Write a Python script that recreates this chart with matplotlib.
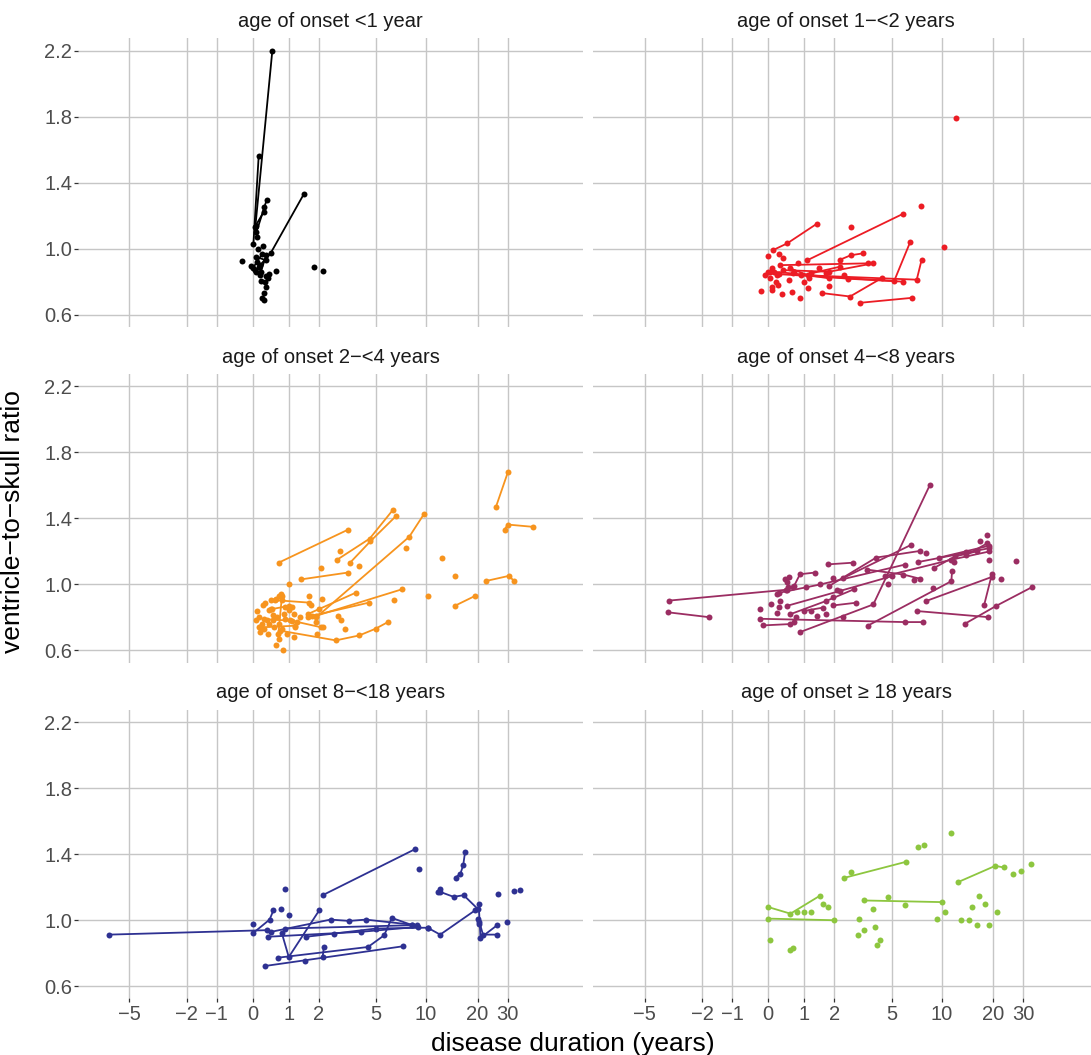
import numpy as np
import matplotlib.pyplot as plt

plt.rcParams['font.family'] = ['Liberation Sans', 'DejaVu Sans']

# ---------- data: one list of trajectories per onset group ----------
panel_titles = ["age of onset <1 year", "age of onset 1\u2212<2 years",
                "age of onset 2\u2212<4 years", "age of onset 4\u2212<8 years",
                "age of onset 8\u2212<18 years", "age of onset \u2265 18 years"]
panel_colors = ["#000000", "#EC1C24", "#F7941E", "#9B2D62", "#2E3192", "#8DC63F"]

onset_lt1 = [
    [(0.07, 1.13), (0.53, 2.2)],
    [(0.02, 1.03), (0.16, 1.56)],
    [(0.2, 0.90), (0.49, 0.975), (1.47, 1.33)],
    [(0.1, 1.10), (0.31, 1.25), (0.375, 1.295)],
    [(0.08, 1.14), (0.29, 1.22)],
    [(0.0, 0.88), (0.26, 0.97)],
    [(0.12, 0.92), (0.22, 0.86), (0.36, 0.96)],
    [(0.05, 0.87), (0.18, 0.89)],
    [(0.1, 0.95), (0.35, 0.93)],
    [(-0.285, 0.925)], [(-0.04, 0.895)], [(0.63, 0.865)], [(1.84, 0.89)],
    [(2.18, 0.865)], [(0.43, 0.845)], [(0.36, 0.835)], [(0.22, 0.805)],
    [(0.36, 0.77)], [(0.29, 0.73)], [(0.24, 0.70)], [(0.31, 0.69)],
    [(0.27, 1.015)], [(0.15, 1.0)], [(0.4, 0.82)], [(0.33, 0.80)],
    [(0.08, 0.86)], [(0.2, 0.84)], [(0.12, 1.07)],
]

onset_1_2 = [
    [(0.116, 0.99), (0.51, 1.032), (1.38, 1.15)],
    [(1.09, 0.93), (5.86, 1.211)],
    [(0.3, 0.845), (5.17, 0.804), (6.5, 1.043)],
    [(0.9, 0.84), (7.1, 0.812), (7.6, 0.933)],
    [(1.55, 0.731), (2.64, 0.71), (4.36, 0.824)],
    [(3.12, 0.672), (6.66, 0.702)],
    [(2.22, 0.933), (2.67, 0.96), (3.27, 0.972)],
    [(0.31, 0.90), (3.51, 0.911)],
    [(0.4, 0.87), (1.8, 0.86), (3.81, 0.911)],
    [(0.6, 0.88), (1.1, 0.84), (1.8, 0.82)],
    [(1.2, 0.85), (2.2, 0.89)],
    [(0.15, 0.86), (2.53, 0.818), (5.9, 0.80)],
    [(12.1, 1.792)], [(7.54, 1.259)], [(2.68, 1.132)], [(10.3, 1.01)],
    [(0.0, 0.953)], [(-0.09, 0.842)], [(-0.196, 0.743)], [(0.09, 0.747)],
    [(0.09, 0.767)], [(0.357, 0.723)], [(0.63, 0.735)], [(0.88, 0.703)],
    [(1.12, 0.761)], [(1.81, 0.773)], [(0.05, 0.82)], [(0.2, 0.80)],
    [(0.25, 0.78)], [(0.1, 0.88)], [(0.4, 0.943)], [(0.7, 0.86)],
    [(1.45, 0.88)], [(1.7, 0.85)], [(2.4, 0.84)], [(0.55, 0.81)],
    [(0.0, 0.86)], [(0.3, 0.97)], [(1.0, 0.80)], [(0.04, 0.858)],
    [(0.22, 0.838)], [(0.68, 0.85)], [(1.14, 0.82)], [(0.8, 0.913)],
]

onset_2_4 = [
    [(0.716, 1.133), (3.3, 1.333)],
    [(2.77, 1.151), (4.55, 1.278), (6.31, 1.45)],
    [(3.4, 1.133), (4.6, 1.262), (6.6, 1.414)],
    [(1.9, 0.80), (7.94, 1.289), (9.76, 1.43)],
    [(1.39, 1.031), (3.27, 1.072)],
    [(22.4, 1.021), (30.4, 1.052), (32.6, 1.021)],
    [(25.6, 1.471), (30.0, 1.68)],
    [(28.7, 1.333), (30.0, 1.363), (42.2, 1.349)],
    [(14.7, 0.87), (19.3, 0.93)],
    [(1.9, 0.81), (7.2, 0.971)],
    [(0.75, 0.72), (2.7, 0.661), (3.9, 0.691), (4.96, 0.732), (5.9, 0.772)],
    [(1.75, 0.81), (4.5, 0.89)],
    [(1.6, 0.82), (3.7, 0.95)],
    [(0.6, 0.905), (1.65, 0.89)],
    [(0.3, 0.79), (1.1, 0.78), (2.1, 0.74)],
    [(0.5, 0.85), (1.0, 0.87)],
    [(0.7, 0.70), (0.8, 0.93)],
    [(0.2, 0.74), (1.2, 0.75)],
    [(2.9, 1.202)], [(3.86, 1.11)], [(2.08, 1.1)], [(1.02, 1.0)],
    [(12.4, 1.161)], [(14.8, 1.052)], [(10.2, 0.93)], [(6.45, 0.904)],
    [(7.6, 1.222)], [(3.14, 0.732)], [(1.66, 0.93)], [(2.12, 0.91)],
    [(0.84, 0.60)], [(0.62, 0.631)], [(0.72, 0.671)],
    [(0.116, 0.837)], [(0.18, 0.803)], [(0.16, 0.742)], [(0.2, 0.711)],
    [(0.27, 0.873)], [(0.34, 0.888)], [(0.43, 0.847)], [(0.49, 0.904)],
    [(0.51, 0.853)], [(0.63, 0.914)], [(0.72, 0.928)], [(0.76, 0.944)],
    [(0.79, 0.904)], [(0.375, 0.786)], [(0.45, 0.762)], [(0.54, 0.782)],
    [(0.58, 0.742)], [(0.67, 0.803)], [(0.72, 0.762)], [(0.81, 0.732)],
    [(0.86, 0.823)], [(0.9, 0.863)], [(1.0, 0.843)], [(1.1, 0.863)],
    [(1.15, 0.823)], [(1.05, 0.782)], [(1.2, 0.742)], [(0.95, 0.701)],
    [(0.41, 0.701)], [(2.0, 0.853)], [(1.72, 0.873)], [(1.6, 0.803)],
    [(1.88, 0.772)], [(1.95, 0.701)], [(2.17, 0.742)], [(2.8, 0.807)],
    [(2.95, 0.782)], [(1.15, 0.681)], [(0.09, 0.782)], [(0.25, 0.762)],
    [(0.31, 0.732)], [(0.56, 0.813)], [(0.88, 0.793)], [(1.25, 0.772)],
    [(1.35, 0.803)],
]

onset_4_8 = [
    [(0.87, 0.711), (3.81, 0.879), (8.5, 1.602)],
    [(-3.51, 0.902), (0.49, 0.968)],
    [(-3.53, 0.831), (-1.76, 0.802)],
    [(2.35, 1.039), (6.6, 1.241)],
    [(1.8, 0.99), (3.98, 1.163), (7.4, 1.203)],
    [(7.25, 1.136), (19.0, 1.22)],
    [(9.7, 1.163), (19.0, 1.235)],
    [(13.9, 1.177), (18.5, 1.25)],
    [(4.5, 1.05), (11.4, 1.15), (19.0, 1.20)],
    [(17.7, 0.873), (19.7, 1.065)],
    [(13.7, 0.762), (20.9, 0.871), (33.8, 0.985)],
    [(8.1, 0.90), (19.7, 1.046)],
    [(7.1, 0.839), (18.7, 0.802)],
    [(3.5, 0.75), (11.4, 1.02), (11.5, 1.08)],
    [(-0.22, 0.792), (6.0, 0.772), (7.7, 0.772)],
    [(-0.13, 0.752), (0.6, 0.76)],
    [(1.96, 0.873), (2.9, 0.889)],
    [(1.78, 1.122), (2.78, 1.132)],
    [(0.7, 0.99), (0.87, 1.062), (1.32, 1.072)],
    [(0.5, 0.87), (2.2, 0.96), (5.0, 1.05)],
    [(0.3, 0.95), (1.5, 1.0), (6.0, 1.12)],
    [(0.6, 0.82), (1.7, 0.90), (2.8, 0.97)],
    [(1.0, 0.84), (1.6, 0.86)],
    [(9.0, 1.10), (12.0, 1.17), (16.0, 1.20)],
    [(3.47, 1.09), (5.9, 1.06), (7.4, 1.035)],
    [(18.3, 1.298)], [(16.7, 1.264)], [(19.0, 1.15)], [(27.0, 1.142)],
    [(22.1, 1.031)], [(8.1, 1.193)], [(-0.222, 0.853)], [(0.062, 0.879)],
    [(0.24, 0.94)], [(0.29, 0.863)], [(0.22, 0.827)], [(0.45, 1.035)],
    [(0.55, 1.045)], [(0.5, 1.015)], [(0.52, 0.985)], [(0.5, 0.965)],
    [(0.67, 0.985)], [(1.05, 0.985)], [(1.95, 1.04)], [(4.7, 1.0)],
    [(6.8, 1.025)], [(8.9, 0.98)], [(11.8, 1.136)], [(13.8, 1.197)],
    [(1.2, 0.84)], [(1.4, 0.81)], [(1.7, 0.82)], [(0.77, 0.80)],
    [(0.7, 0.77)], [(1.96, 0.924)], [(2.1, 0.965)], [(2.35, 0.803)],
    [(0.31, 0.90)],
]

onset_8_18 = [
    [(-6.6, 0.913), (0.39, 0.94)],
    [(0.0, 0.92), (0.455, 1.004), (0.56, 1.06)],
    [(2.15, 1.152), (8.6, 1.431)],
    [(14.9, 1.259), (15.9, 1.283), (16.5, 1.334), (16.9, 1.411)],
    [(11.7, 1.172), (12.1, 1.192)],
    [(12.1, 1.172), (14.5, 1.142), (16.6, 1.152), (20.0, 1.07)],
    [(20.3, 1.10), (20.8, 0.893), (26.0, 0.97)],
    [(20.5, 0.99), (21.5, 0.913), (26.0, 0.913)],
    [(10.2, 0.955), (12.1, 0.913), (19.4, 1.061)],
    [(0.68, 0.773), (4.44, 0.838), (5.6, 0.909), (6.24, 1.014), (8.3, 0.97)],
    [(0.336, 0.723), (7.25, 0.842)],
    [(0.8, 0.92), (1.0, 0.777), (2.02, 1.061)],
    [(0.5, 0.93), (2.47, 1.004), (3.35, 0.996), (4.3, 1.004), (8.8, 0.97)],
    [(0.9, 0.95), (8.3, 0.97)],
    [(1.55, 0.90), (2.6, 0.919), (5.0, 0.95), (10.2, 0.955)],
    [(0.4, 0.90), (4.0, 0.93), (9.0, 0.96)],
    [(2.15, 0.78), (2.2, 0.84)],
    [(0.0, 0.98)], [(0.78, 1.069)], [(0.88, 1.192)], [(1.0, 1.03)],
    [(9.1, 1.31)], [(26.2, 1.162)], [(32.4, 1.178)], [(35.3, 1.182)],
    [(29.6, 0.99)], [(1.5, 0.751)], [(20.0, 1.01)], [(20.3, 0.98)],
]

onset_ge18 = [
    [(0.0, 1.08), (0.6, 1.04), (1.5, 1.15)],
    [(0.0, 1.01), (2.0, 1.0)],
    [(2.39, 1.257), (6.1, 1.354)],
    [(3.3, 1.12), (10.0, 1.11)],
    [(12.4, 1.23), (20.6, 1.33), (23.0, 1.32)],
    [(0.05, 0.88)], [(0.6, 0.82)], [(0.68, 0.83)], [(0.78, 1.05)],
    [(1.0, 1.05)], [(1.2, 1.05)], [(1.6, 1.10)], [(1.75, 1.08)],
    [(2.7, 1.29)], [(3.0, 0.91)], [(3.3, 0.94)], [(3.05, 1.01)],
    [(3.9, 0.96)], [(4.2, 0.88)], [(4.0, 0.85)], [(3.8, 1.07)],
    [(4.7, 1.14)], [(6.0, 1.09)], [(7.2, 1.445)], [(7.9, 1.455)],
    [(9.4, 1.01)], [(10.5, 1.05)], [(11.3, 1.53)], [(26.0, 1.28)],
    [(29.0, 1.30)], [(33.0, 1.34)], [(13.0, 1.0)], [(15.0, 1.08)],
    [(16.5, 1.15)], [(18.0, 1.10)], [(16.0, 0.97)], [(19.0, 0.97)],
    [(14.5, 1.0)], [(21.0, 1.05)],
]

panel_data = [onset_lt1, onset_1_2, onset_2_4, onset_4_8, onset_8_18, onset_ge18]

x_ticks = [-5, -2, -1, 0, 1, 2, 5, 10, 20, 30]
x_tick_labels = ["\u22125", "\u22122", "\u22121", "0", "1", "2", "5", "10", "20", "30"]
y_ticks = [0.6, 1.0, 1.4, 1.8, 2.2]
y_tick_labels = ["0.6", "1.0", "1.4", "1.8", "2.2"]


# pseudo-log axis (asinh(x / 2))
def fwd(x):
    return np.arcsinh(np.asarray(x, dtype=float) / 2.0)


def inv(t):
    return 2.0 * np.sinh(np.asarray(t, dtype=float))


W, H = 1091, 1055
fig = plt.figure(figsize=(W / 100, H / 100), dpi=100)

col_left = [77.7, 593.3]
row_top = [38.3, 374.1, 709.9]
pw, ph = 505.6, 288.4

for i, (trajs, title, color) in enumerate(zip(panel_data, panel_titles, panel_colors)):
    r, c = divmod(i, 2)
    ax = fig.add_axes([col_left[c] / W, 1 - (row_top[r] + ph) / H, pw / W, ph / H])
    ax.set_xscale('function', functions=(fwd, inv))
    ax.set_xlim(-10.21, 82.1)
    ax.set_ylim(0.527, 2.275)
    for s in ax.spines.values():
        s.set_visible(False)
    ax.grid(True, color='#C6C6C6', lw=1.0)
    ax.set_axisbelow(True)
    ax.set_xticks(x_ticks)
    ax.set_yticks(y_ticks)
    ax.minorticks_off()

    if r == 2:
        ax.set_xticklabels(x_tick_labels)
        ax.tick_params(axis='x', length=3, width=0.9, color='#333333', pad=2,
                       labelsize=14.5, labelcolor='#4D4D4D')
    else:
        ax.set_xticklabels([])
        ax.tick_params(axis='x', length=0)
    if c == 0:
        ax.set_yticklabels(y_tick_labels)
        ax.tick_params(axis='y', length=3, width=0.9, color='#333333', pad=1,
                       labelsize=14.5, labelcolor='#4D4D4D')
    else:
        ax.set_yticklabels([])
        ax.tick_params(axis='y', length=0)

    for tr in trajs:
        tr = sorted(tr)
        xs = [p[0] for p in tr]
        ys = [p[1] for p in tr]
        ax.plot(xs, ys, '-o', color=color, lw=1.3, ms=4.3, mew=0)

    ax.text(0.5, 1 + 11.5 / ph, title, transform=ax.transAxes, ha='center',
            va='baseline', fontsize=14.5, color='#1A1A1A')

fig.text(572.5 / W, 1 - 1051.5 / H, "disease duration (years)", ha='center',
         va='baseline', fontsize=19)
fig.text(13 / W, 1 - 522 / H, "ventricle\u2212to\u2212skull ratio", ha='center',
         va='center', rotation=90, fontsize=19)

fig.savefig("out.png", dpi=100)
